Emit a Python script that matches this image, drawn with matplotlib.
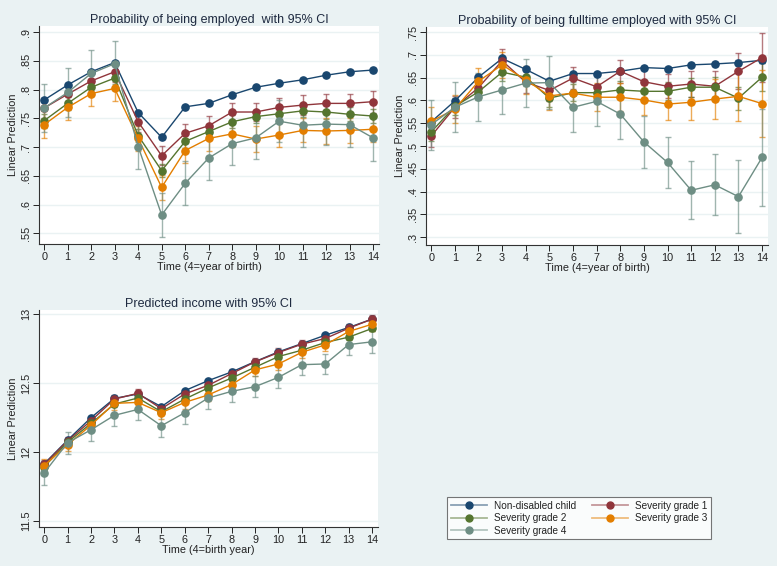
import numpy as np
import matplotlib
matplotlib.use("Agg")
import matplotlib.pyplot as plt
from matplotlib.lines import Line2D
from matplotlib.legend_handler import HandlerTuple

plt.rcParams['font.family'] = ['Liberation Sans', 'DejaVu Sans']

# ---------------- data ----------------
time = list(range(15))
series = ["Non-disabled child", "Severity grade 1", "Severity grade 2",
          "Severity grade 3", "Severity grade 4"]
colors = ["#1a476f", "#90353b", "#55752f", "#e37e00", "#6e8e84"]

# Probability of being employed
emp_nd = [0.782, 0.808, 0.831, 0.847, 0.760, 0.717, 0.770, 0.776, 0.791, 0.804, 0.811, 0.817, 0.825, 0.831, 0.834]
emp_s1 = [0.768, 0.792, 0.815, 0.831, 0.744, 0.685, 0.724, 0.737, 0.761, 0.761, 0.769, 0.773, 0.776, 0.776, 0.779]
emp_s2 = [0.746, 0.776, 0.804, 0.820, 0.720, 0.659, 0.710, 0.727, 0.744, 0.753, 0.758, 0.763, 0.761, 0.757, 0.754]
emp_s3 = [0.739, 0.769, 0.793, 0.802, 0.715, 0.630, 0.694, 0.715, 0.723, 0.714, 0.721, 0.729, 0.728, 0.729, 0.731]
emp_s4 = [0.768, 0.795, 0.828, 0.845, 0.701, 0.582, 0.637, 0.681, 0.706, 0.716, 0.745, 0.738, 0.740, 0.739, 0.716]
emp_ci_nd = [0.004, 0.003, 0.003, 0.003, 0.003, 0.003, 0.003, 0.003, 0.003, 0.003, 0.003, 0.003, 0.003, 0.003, 0.003]
emp_ci_s1 = [0.018, 0.017, 0.017, 0.017, 0.017, 0.017, 0.017, 0.017, 0.016, 0.016, 0.017, 0.017, 0.017, 0.017, 0.019]
emp_ci_s2 = [0.012, 0.011, 0.011, 0.011, 0.011, 0.011, 0.011, 0.011, 0.011, 0.011, 0.011, 0.011, 0.012, 0.012, 0.012]
emp_ci_s3 = [0.023, 0.022, 0.022, 0.022, 0.022, 0.022, 0.022, 0.022, 0.022, 0.022, 0.021, 0.021, 0.022, 0.022, 0.022]
emp_ci_s4 = [0.041, 0.042, 0.040, 0.040, 0.039, 0.039, 0.038, 0.038, 0.038, 0.037, 0.037, 0.037, 0.037, 0.038, 0.041]

# Probability of being fulltime employed
ft_nd = [0.553, 0.599, 0.651, 0.692, 0.668, 0.642, 0.659, 0.659, 0.664, 0.672, 0.670, 0.678, 0.680, 0.683, 0.688]
ft_s1 = [0.522, 0.585, 0.628, 0.687, 0.640, 0.622, 0.649, 0.630, 0.664, 0.641, 0.631, 0.636, 0.631, 0.664, 0.694]
ft_s2 = [0.531, 0.587, 0.619, 0.662, 0.651, 0.605, 0.617, 0.617, 0.623, 0.620, 0.620, 0.629, 0.629, 0.605, 0.651]
ft_s3 = [0.554, 0.581, 0.642, 0.678, 0.645, 0.610, 0.616, 0.607, 0.607, 0.601, 0.592, 0.596, 0.603, 0.609, 0.593]
ft_s4 = [0.547, 0.585, 0.608, 0.623, 0.638, 0.639, 0.585, 0.598, 0.570, 0.509, 0.464, 0.403, 0.415, 0.389, 0.475]
ft_ci_nd = [0.005, 0.004, 0.004, 0.004, 0.004, 0.004, 0.004, 0.004, 0.004, 0.004, 0.004, 0.004, 0.004, 0.005, 0.005]
ft_ci_s1 = [0.025, 0.024, 0.024, 0.025, 0.024, 0.024, 0.024, 0.024, 0.025, 0.025, 0.026, 0.028, 0.033, 0.040, 0.053]
ft_ci_s2 = [0.020, 0.019, 0.019, 0.019, 0.019, 0.019, 0.019, 0.019, 0.019, 0.020, 0.020, 0.021, 0.022, 0.025, 0.030]
ft_ci_s3 = [0.031, 0.030, 0.029, 0.029, 0.030, 0.031, 0.030, 0.031, 0.031, 0.033, 0.035, 0.039, 0.043, 0.054, 0.073]
ft_ci_s4 = [0.055, 0.055, 0.053, 0.052, 0.053, 0.058, 0.055, 0.055, 0.055, 0.057, 0.056, 0.064, 0.067, 0.080, 0.107]

# Predicted income
inc_nd = [11.913, 12.085, 12.248, 12.388, 12.420, 12.328, 12.444, 12.517, 12.580, 12.655, 12.726, 12.786, 12.847, 12.903, 12.964]
inc_s1 = [11.908, 12.080, 12.226, 12.383, 12.425, 12.313, 12.420, 12.483, 12.568, 12.653, 12.721, 12.782, 12.823, 12.898, 12.964]
inc_s2 = [11.891, 12.070, 12.206, 12.347, 12.391, 12.291, 12.383, 12.464, 12.536, 12.614, 12.692, 12.738, 12.794, 12.833, 12.896]
inc_s3 = [11.900, 12.051, 12.194, 12.352, 12.359, 12.284, 12.359, 12.413, 12.488, 12.595, 12.638, 12.723, 12.777, 12.874, 12.927]
inc_s4 = [11.847, 12.066, 12.160, 12.265, 12.308, 12.189, 12.284, 12.391, 12.439, 12.473, 12.541, 12.633, 12.638, 12.779, 12.799]
inc_ci_nd = [0.006, 0.005, 0.005, 0.005, 0.005, 0.005, 0.005, 0.005, 0.005, 0.005, 0.005, 0.005, 0.005, 0.005, 0.006]
inc_ci_s1 = [0.032, 0.030, 0.030, 0.030, 0.031, 0.030, 0.030, 0.030, 0.030, 0.030, 0.030, 0.031, 0.031, 0.031, 0.033]
inc_ci_s2 = [0.022, 0.020, 0.020, 0.020, 0.020, 0.020, 0.020, 0.020, 0.020, 0.020, 0.020, 0.021, 0.021, 0.021, 0.022]
inc_ci_s3 = [0.047, 0.045, 0.045, 0.045, 0.045, 0.045, 0.045, 0.045, 0.045, 0.045, 0.045, 0.045, 0.046, 0.046, 0.048]
inc_ci_s4 = [0.087, 0.080, 0.080, 0.080, 0.080, 0.082, 0.080, 0.080, 0.078, 0.078, 0.078, 0.078, 0.076, 0.075, 0.080]

emp_yticks = [0.55, 0.6, 0.65, 0.7, 0.75, 0.8, 0.85, 0.9]
ft_yticks = [0.3, 0.35, 0.4, 0.45, 0.5, 0.55, 0.6, 0.65, 0.7, 0.75]
inc_yticks = [11.5, 12, 12.5, 13]

BG = "#eaf2f3"
TXT = "#1e2a40"


def fmt_tick(v):
    s = ("%g" % v)
    if s.startswith("0."):
        s = s[1:]
    return s


def Plot_Panel(ax, vals, cis, yticks, ylim, title, xlabel):
    ax.set_facecolor("white")
    for v, c, col in zip(vals, cis, colors):
        ax.errorbar(time, v, yerr=c, fmt="none", ecolor=col, elinewidth=1.0,
                    capsize=2.5, capthick=1.0, alpha=0.65, zorder=2)
    for v, col in zip(vals, colors):
        ax.plot(time, v, color=col, lw=1.0, marker="o", ms=5.2,
                mec=col, mfc=col, zorder=3)
    ax.set_xlim(-0.22, 14.25)
    ax.set_ylim(*ylim)
    ax.set_xticks(time)
    ax.set_yticks(yticks)
    ax.set_yticklabels([fmt_tick(t) for t in yticks], rotation=90, va="center")
    ax.yaxis.grid(True, color=BG, lw=1.0)
    ax.set_axisbelow(True)
    for s in ["top", "right"]:
        ax.spines[s].set_visible(False)
    for s in ["left", "bottom"]:
        ax.spines[s].set_color("#333333")
        ax.spines[s].set_linewidth(0.8)
    ax.tick_params(labelsize=7.8, colors="#222222", length=4, width=0.7, pad=2)
    ax.set_title(title, fontsize=9, color=TXT, pad=1.5)
    ax.set_xlabel(xlabel, fontsize=7.8, color="#222222", labelpad=0)
    ax.set_ylabel("Linear Prediction", fontsize=7.8, color="#222222", labelpad=2)


fig = plt.figure(figsize=(7.77, 5.66), dpi=100, facecolor=BG)

ax1 = fig.add_axes([0.0502, 0.5689, 0.4376, 0.3846])
Plot_Panel(ax1, [emp_nd, emp_s1, emp_s2, emp_s3, emp_s4],
           [emp_ci_nd, emp_ci_s1, emp_ci_s2, emp_ci_s3, emp_ci_s4],
           emp_yticks, (0.5315, 0.910),
           "Probability of being employed  with 95% CI", "Time (4=year of birth)")

ax2 = fig.add_axes([0.5483, 0.5671, 0.4401, 0.3852])
Plot_Panel(ax2, [ft_nd, ft_s1, ft_s2, ft_s3, ft_s4],
           [ft_ci_nd, ft_ci_s1, ft_ci_s2, ft_ci_s3, ft_ci_s4],
           ft_yticks, (0.283, 0.761),
           "Probability of being fulltime employed with 95% CI", "Time (4=year of birth)")

ax3 = fig.add_axes([0.0502, 0.0689, 0.4363, 0.3834])
Plot_Panel(ax3, [inc_nd, inc_s1, inc_s2, inc_s3, inc_s4],
           [inc_ci_nd, inc_ci_s1, inc_ci_s2, inc_ci_s3, inc_ci_s4],
           inc_yticks, (11.454, 13.03),
           "Predicted income with 95% CI", "Time (4=birth year)")

# legend (row-wise order like Stata): faded line with solid marker on top
handles = [(Line2D([0], [0], color=col, lw=1.3, alpha=0.5),
            Line2D([0], [0], color=col, lw=0, marker="o", ms=5, mfc=col, mec=col))
           for col in colors]
order = [0, 2, 4, 1, 3]
leg = fig.legend([handles[i] for i in order], [series[i] for i in order],
                 handler_map={tuple: HandlerTuple(ndivide=1, pad=0)},
                 ncol=2, loc="upper left", bbox_to_anchor=(0.5753, 0.1219),
                 fontsize=7.2, frameon=True, fancybox=False,
                 handlelength=3.6, handletextpad=0.7, columnspacing=1.6,
                 labelspacing=0.25, borderpad=0.35, borderaxespad=0)
leg.get_frame().set_edgecolor("#555555")
leg.get_frame().set_linewidth(0.8)
for t in leg.get_texts():
    t.set_color("#222222")

fig.savefig("out.png", dpi=100, facecolor=BG)
